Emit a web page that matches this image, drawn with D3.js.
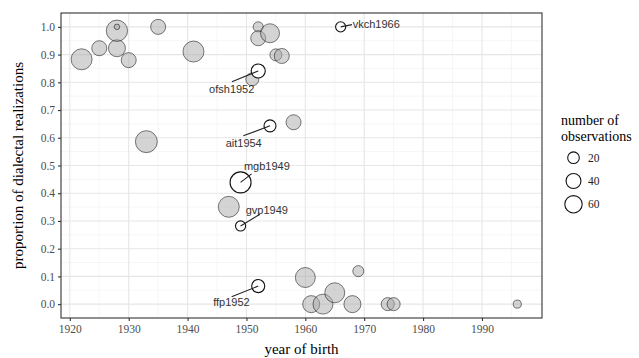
<!DOCTYPE html>
<html>
<head>
<meta charset="utf-8">
<script src="https://cdn.jsdelivr.net/npm/d3@7"></script>
<style>
  body { margin: 0; background: #fff; }
</style>
</head>
<body>
<div id="chart"></div>
<script>
// Unlabelled speakers (grey bubbles)
const years = [1922, 1925, 1928, 1928, 1928, 1930, 1933, 1935, 1941, 1947, 1951, 1952, 1952, 1954,
  1955, 1956, 1958, 1960, 1961, 1963, 1965, 1968, 1969, 1974, 1975, 1996];
const proportions = [0.883, 0.923, 0.923, 0.986, 1.0, 0.88, 0.586, 1.0, 0.911, 0.351, 0.811, 1.0, 0.959, 0.977,
  0.899, 0.895, 0.656, 0.096, 0.0, 0.0, 0.041, 0.0, 0.119, 0.0, 0.0, 0.0];
const counts = [96, 41, 57, 100, 1, 41, 107, 41, 96, 96, 28, 13, 41, 75,
  22, 41, 41, 85, 57, 85, 85, 57, 17, 28, 28, 6];

// Labelled speakers (white bubbles)
const speakers = ["vkch1966", "ofsh1952", "ait1954", "mgb1949", "gvp1949", "ffp1952"];
const speakerYears = [1966, 1952, 1954, 1949, 1949, 1952];
const speakerProps = [1.0, 0.841, 0.643, 0.439, 0.282, 0.065];
const speakerCounts = [13, 34, 22, 96, 13, 28];

// Axis ticks and legend breaks
const xTicks = [1920, 1930, 1940, 1950, 1960, 1970, 1980, 1990];
const yTicks = [0, 0.1, 0.2, 0.3, 0.4, 0.5, 0.6, 0.7, 0.8, 0.9, 1.0];
const sizeBreaks = [20, 40, 60];

// label placement (pixel offsets from the point, like ggrepel output)
const labelOffsets = [
  { tx: 35.6, ty: -3.2, sx: 11.3, sy: -2.2 },
  { tx: -26.5, ty: 18, sx: -26.3, sy: 10.7 },
  { tx: -26.3, ty: 17.6, sx: -26.7, sy: 10 },
  { tx: 26.3, ty: -15.8, sx: 11, sy: -8.5 },
  { tx: 26.3, ty: -16, sx: 19.3, sy: -11.7 },
  { tx: -26.8, ty: 16, sx: -26.6, sy: 10.7 }
];

const W = 639, H = 358;
const panel = { left: 61, right: 542, top: 13, bottom: 318 };

const svg = d3.select("#chart").append("svg")
  .attr("width", W).attr("height", H);

const x = d3.scaleLinear().domain([1918.5, 2000.2]).range([panel.left, panel.right]);
const y = d3.scaleLinear().domain([-0.05, 1.05]).range([panel.bottom, panel.top]);
const r = d3.scaleSqrt().domain([0, 110]).range([1.9, 11.1]);

const serif = "'Liberation Serif', 'DejaVu Serif', serif";
const sans = "'Liberation Sans', Arial, sans-serif";

// grid
const grid = svg.append("g");
const xMinor = d3.range(1925, 2000, 10);
const yMinor = d3.range(0.05, 1.05, 0.1);
grid.selectAll(".xm").data(xMinor).enter().append("line")
  .attr("x1", d => x(d)).attr("x2", d => x(d))
  .attr("y1", panel.top).attr("y2", panel.bottom)
  .attr("stroke", "#f0f0f0").attr("stroke-width", 0.6);
grid.selectAll(".ym").data(yMinor).enter().append("line")
  .attr("y1", d => y(d)).attr("y2", d => y(d))
  .attr("x1", panel.left).attr("x2", panel.right)
  .attr("stroke", "#f0f0f0").attr("stroke-width", 0.6);
grid.selectAll(".xM").data(xTicks).enter().append("line")
  .attr("x1", d => x(d)).attr("x2", d => x(d))
  .attr("y1", panel.top).attr("y2", panel.bottom)
  .attr("stroke", "#e6e6e6").attr("stroke-width", 1.1);
grid.selectAll(".yM").data(yTicks).enter().append("line")
  .attr("y1", d => y(d)).attr("y2", d => y(d))
  .attr("x1", panel.left).attr("x2", panel.right)
  .attr("stroke", "#e6e6e6").attr("stroke-width", 1.1);

// grey bubbles
svg.append("g").selectAll("circle")
  .data(years.map((yr, i) => ({ yr, p: proportions[i], n: counts[i] })))
  .enter().append("circle")
  .attr("cx", d => x(d.yr))
  .attr("cy", d => y(d.p))
  .attr("r", d => r(d.n))
  .attr("fill", "rgba(170,170,170,0.5)")
  .attr("stroke", "rgba(0,0,0,0.5)")
  .attr("stroke-width", 1);

// labelled speakers
const lab = speakers.map((s, i) => ({
  s, yr: speakerYears[i], p: speakerProps[i], n: speakerCounts[i], o: labelOffsets[i]
}));

svg.append("g").selectAll("circle")
  .data(lab).enter().append("circle")
  .attr("cx", d => x(d.yr))
  .attr("cy", d => y(d.p))
  .attr("r", d => r(d.n))
  .attr("fill", "#fff")
  .attr("stroke", "#111")
  .attr("stroke-width", 1.1);

svg.append("g").selectAll("line")
  .data(lab).enter().append("line")
  .attr("x1", d => x(d.yr)).attr("y1", d => y(d.p))
  .attr("x2", d => x(d.yr) + d.o.sx).attr("y2", d => y(d.p) + d.o.sy)
  .attr("stroke", "#222").attr("stroke-width", 1.1);

svg.append("g").selectAll("text")
  .data(lab).enter().append("text")
  .attr("x", d => x(d.yr) + d.o.tx)
  .attr("y", d => y(d.p) + d.o.ty)
  .attr("text-anchor", "middle")
  .attr("dy", "0.35em")
  .style("font-family", sans)
  .style("font-size", "11px")
  .style("fill", "#333")
  .text(d => d.s);

// panel border
svg.append("rect")
  .attr("x", panel.left).attr("y", panel.top)
  .attr("width", panel.right - panel.left).attr("height", panel.bottom - panel.top)
  .attr("fill", "none").attr("stroke", "#333").attr("stroke-width", 1.1);

// axes
const xAxis = svg.append("g")
  .attr("transform", `translate(0,${panel.bottom})`)
  .call(d3.axisBottom(x).tickValues(xTicks).tickFormat(d3.format("d")).tickSize(3).tickPadding(4));
const yAxis = svg.append("g")
  .attr("transform", `translate(${panel.left},0)`)
  .call(d3.axisLeft(y).tickValues(yTicks).tickFormat(d3.format(".1f")).tickSize(3).tickPadding(3));
[xAxis, yAxis].forEach(a => {
  a.select(".domain").remove();
  a.selectAll(".tick line").attr("stroke", "#333").attr("stroke-width", 1.1);
  a.selectAll(".tick text")
    .style("font-family", serif).style("font-size", "11.5px").style("fill", "#4d4d4d");
});

// axis titles
svg.append("text")
  .attr("x", (panel.left + panel.right) / 2).attr("y", 354)
  .attr("text-anchor", "middle")
  .style("font-family", serif).style("font-size", "15px")
  .text("year of birth");

svg.append("text")
  .attr("transform", `translate(23,${(panel.top + panel.bottom) / 2}) rotate(-90)`)
  .attr("text-anchor", "middle")
  .style("font-family", serif).style("font-size", "15px")
  .text("proportion of dialectal realizations");

// size legend
const legend = svg.append("g");
legend.append("text")
  .attr("x", 561).attr("y", 125)
  .style("font-family", serif).style("font-size", "14px")
  .text("number of");
legend.append("text")
  .attr("x", 561).attr("y", 140.5)
  .style("font-family", serif).style("font-size", "14px")
  .text("observations");
const keyY = d3.scaleBand().domain(sizeBreaks).range([146, 216]);
legend.selectAll("circle").data(sizeBreaks).enter().append("circle")
  .attr("cx", 573.5)
  .attr("cy", d => keyY(d) + keyY.bandwidth() / 2)
  .attr("r", d => r(d))
  .attr("fill", "#fff").attr("stroke", "#111").attr("stroke-width", 1.1);
legend.selectAll(".lbl").data(sizeBreaks).enter().append("text")
  .attr("x", 588)
  .attr("y", d => keyY(d) + keyY.bandwidth() / 2)
  .attr("dy", "0.35em")
  .style("font-family", serif).style("font-size", "11.5px").style("fill", "#222")
  .text(d => d);
</script>
</body>
</html>
